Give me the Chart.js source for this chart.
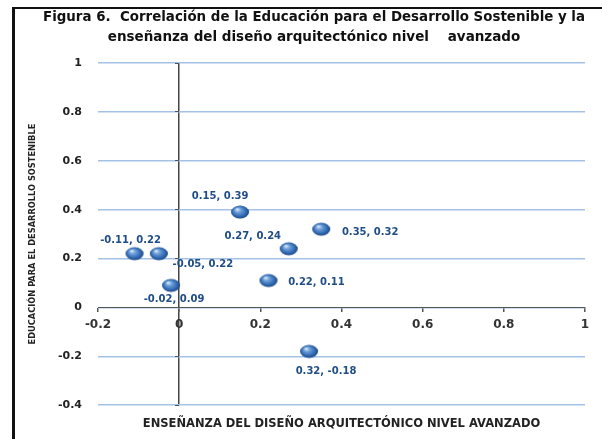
<!DOCTYPE html>
<html>
<head>
<meta charset="utf-8">
<script src="https://cdn.jsdelivr.net/npm/chart.js@4.4.1/dist/chart.umd.min.js"></script>
<style>
  body { margin: 0; background: #fff; }
  #wrap { position: relative; width: 602px; height: 439px; }
  #frame {
    position: absolute; left: 12px; top: 7px; right: 0; bottom: 0;
    border-left: 3px solid #111; border-top: 2px solid #111;
    pointer-events: none;
  }
</style>
</head>
<body>
<div id="wrap">
  <canvas id="scatter-chart" width="602" height="439"></canvas>
  <div id="frame"></div>
</div>
<script>
// values
var xValues = [-0.11, -0.05, -0.02, 0.15, 0.27, 0.35, 0.22, 0.32];
var yValues = [0.22, 0.22, 0.09, 0.39, 0.24, 0.32, 0.11, -0.18];
var xTicks = [-0.2, 0, 0.2, 0.4, 0.6, 0.8, 1];
var yTicks = [-0.4, -0.2, 0, 0.2, 0.4, 0.6, 0.8, 1];

var chartTitle = [
  "Figura 6.  Correlación de la Educación para el Desarrollo Sostenible y la",
  "enseñanza del diseño arquitectónico nivel    avanzado"
];
var xTitle = "ENSEÑANZA DEL DISEÑO ARQUITECTÓNICO NIVEL AVANZADO";
var yTitle = "EDUCACIÓN PARA EL DESARROLLO SOSTENIBLE";

// where each data label sits relative to its point (px)
var labelOffsets = [[-4, -13], [44, 11], [3, 14], [-20, -16], [-36, -12], [49, 3], [48, 2], [17, 20]];

function makeSphere() {
  var c = document.createElement("canvas");
  c.width = 20;
  c.height = 16;
  var g = c.getContext("2d");
  g.translate(10, 8);
  g.scale(1, 0.72);
  var grad = g.createRadialGradient(-3, -4, 0.5, 0, 0, 9.5);
  grad.addColorStop(0, "#d8e9fa");
  grad.addColorStop(0.3, "#6d9fda");
  grad.addColorStop(0.75, "#2d65ad");
  grad.addColorStop(1, "#173f78");
  g.fillStyle = grad;
  g.beginPath();
  g.arc(0, 0, 9, 0, Math.PI * 2);
  g.fill();
  return c;
}

function tickText(v) {
  return String(Number(v.toFixed(1)));
}

function useTicks(list) {
  return function (s) {
    s.ticks = list.map(function (v) { return { value: v }; });
  };
}

var pointLabels = {
  id: "pointLabels",
  afterDatasetsDraw: function (chart) {
    var ctx = chart.ctx;
    var meta = chart.getDatasetMeta(0);
    ctx.save();
    ctx.font = "bold 10px 'DejaVu Sans'";
    ctx.fillStyle = "#1f4d86";
    ctx.textAlign = "center";
    ctx.textBaseline = "middle";
    meta.data.forEach(function (pt, i) {
      ctx.fillText(xValues[i] + ", " + yValues[i], pt.x + labelOffsets[i][0], pt.y + labelOffsets[i][1]);
    });
    ctx.restore();
  }
};

function scatterChart() {
  var sphere = makeSphere();
  new Chart(document.getElementById("scatter-chart"), {
    type: "scatter",
    data: {
      datasets: [
        {
          data: xValues.map(function (x, i) { return { x: x, y: yValues[i] }; }),
          pointStyle: sphere,
          xAxisID: "x",
          yAxisID: "y"
        }
      ]
    },
    options: {
      responsive: false,
      animation: false,
      layout: { padding: { left: 43, right: 17, top: 0, bottom: 4 } },
      plugins: {
        legend: { display: false },
        tooltip: { enabled: false },
        title: {
          display: true,
          text: chartTitle,
          color: "#111",
          font: { family: "'DejaVu Sans', sans-serif", size: 13.5, weight: "bold", lineHeight: "20px" },
          padding: { top: 7, bottom: 16 }
        }
      },
      scales: {
        x: {
          type: "linear",
          position: { y: 0 },
          min: xTicks[0],
          max: xTicks[xTicks.length - 1],
          afterBuildTicks: useTicks(xTicks),
          grid: {
            color: function (c) {
              return c.tick && c.tick.value === 0 ? "#444" : "rgba(0,0,0,0)";
            },
            lineWidth: 1.5,
            tickColor: "#555",
            tickLength: 4
          },
          border: { color: "#555", width: 1 },
          ticks: {
            color: "#333",
            padding: 6,
            callback: tickText,
            font: { family: "'DejaVu Sans'", size: 12, weight: "bold" }
          }
        },
        x2: {
          type: "linear",
          position: "bottom",
          display: true,
          grid: { display: false, drawTicks: false },
          border: { display: false },
          ticks: { display: false },
          title: {
            display: true,
            text: xTitle,
            color: "#222",
            font: { family: "'DejaVu Sans'", size: 11.5, weight: "bold", lineHeight: 1.2 },
            padding: { top: 12, bottom: 4 }
          }
        },
        y: {
          type: "linear",
          min: yTicks[0],
          max: yTicks[yTicks.length - 1],
          afterBuildTicks: useTicks(yTicks),
          afterFit: function (s) {
            s.width = 55;
          },
          grid: { color: "#a3c2e6", lineWidth: 1.5, drawTicks: false },
          border: { display: false },
          ticks: {
            color: "#222",
            padding: 16,
            callback: tickText,
            font: { family: "'DejaVu Sans'", size: 11, weight: "bold" }
          },
          title: {
            display: true,
            text: yTitle,
            color: "#222",
            font: { family: "'DejaVu Sans Condensed', 'DejaVu Sans', sans-serif", size: 9.2, weight: "bold", lineHeight: 1.2 },
            padding: { top: -16, bottom: 0 }
          }
        },
        // short tick marks on the vertical axis line at x = 0
        y2: {
          type: "linear",
          position: { x: 0 },
          min: yTicks[0],
          max: yTicks[yTicks.length - 1],
          afterBuildTicks: useTicks(yTicks),
          grid: { drawOnChartArea: false, color: "#555", tickColor: "#555", tickLength: 4 },
          border: { display: false },
          ticks: { display: false }
        }
      }
    },
    plugins: [pointLabels]
  });
}

document.addEventListener("DOMContentLoaded", function () {
  scatterChart();
});
</script>
</body>
</html>
